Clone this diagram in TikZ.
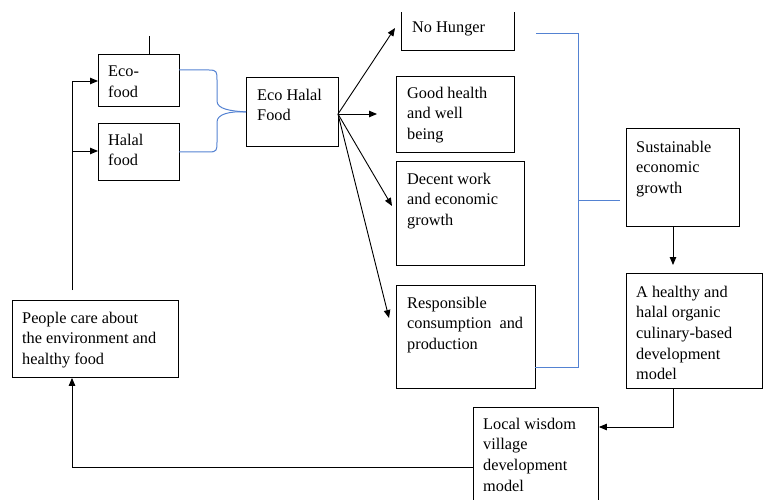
\documentclass[tikz,border=0pt]{standalone}
\usepackage{fontspec}
\setmainfont{Liberation Serif}
\newfontfamily\tnr{Liberation Serif}
\usetikzlibrary{arrows.meta,calc}
\definecolor{bl}{RGB}{84,130,210}
\begin{document}
\begin{tikzpicture}[x=1pt,y=-1pt,
  box/.style={draw,line width=0.9pt,inner sep=0pt,anchor=north west},
  txt/.style={anchor=north west,yshift=11.2pt,align=left,inner sep=0pt,font=\tnr\fontsize{16.3}{20.6}\selectfont},
  ar/.style={-{Triangle[length=8pt,width=6.5pt]},line width=0.9pt},
  conn/.style={line width=0.9pt},
  blu/.style={draw=bl,line width=1pt}]
\useasboundingbox (0,0) rectangle (763,500);
\begin{scope}
\clip (0,13) rectangle (763,500);
% boxes
\node[box,minimum width=81pt,minimum height=52pt] (eco) at (98,54) {};
\node[box,minimum width=81pt,minimum height=57pt] (halal) at (98,123) {};
\node[box,minimum width=92pt,minimum height=69pt] (ehf) at (246,77) {};
\node[box,minimum width=113pt,minimum height=50pt] (nohunger) at (401,0) {};
\node[box,minimum width=118pt,minimum height=76pt] (good) at (396,76) {};
\node[box,minimum width=128pt,minimum height=104pt] (decent) at (396,161) {};
\node[box,minimum width=139pt,minimum height=103pt] (resp) at (396,285) {};
\node[box,minimum width=113pt,minimum height=98pt] (sust) at (626,128) {};
\node[box,minimum width=136pt,minimum height=115pt] (heal) at (626,273) {};
\node[box,minimum width=125pt,minimum height=110pt] (local) at (473,407) {};
\node[box,minimum width=166pt,minimum height=77pt] (people) at (12,300) {};
% texts
\node[txt] (teco) at (108,77) {Eco-\\food};
\node[txt] (thalal) at (108,145) {Halal\\food};
\node[txt] (tehf) at (257,100) {Eco Halal\\Food};
\node[txt] (tnoh) at (412,33) {No Hunger};
\node[txt] (tgood) at (407,98) {Good health\\and well\\being};
\node[txt] (tdecent) at (407,184) {Decent work\\and economic\\growth};
\node[txt] (tresp) at (407,308) {Responsible\\consumption\ \ and\\production};
\node[txt] (tsust) at (636,152) {Sustainable\\economic\\growth};
\node[txt] (theal) at (636,297) {A healthy and\\halal organic\\culinary-based\\development\\model};
\node[txt] (tlocal) at (483,429) {Local wisdom\\village\\development\\model};
\node[txt] (tpeople) at (22,323) {People care about\\the environment and\\healthy food};
% coordinates
\coordinate (stub) at (149,36);
\coordinate (lp) at (72,290);
\coordinate (ltop) at (72,81);
\coordinate (lmid) at (72,151);
\coordinate (lbot) at (72,467);
\coordinate (hb) at (673,427);
\coordinate (st) at (673,265);
\coordinate (src) at (338,114);
\coordinate (a1) at (395,28);
\coordinate (a2) at (377,114);
\coordinate (a3) at (392,206);
\coordinate (a4) at (389,318);
\coordinate (b1) at (536,34);
\coordinate (b2) at (578,34);
\coordinate (b3) at (578,367);
\coordinate (b4) at (535,367);
\coordinate (bm) at (578,200);
\coordinate (be) at (620,200);
\coordinate (e1) at (179,70);
\coordinate (h1) at (179,152);
% black connectors
\draw[conn] (stub) -- (stub |- eco.north);
\draw[conn] (lp) -- (ltop);
\draw[ar] (ltop) -- (eco.west |- ltop);
\draw[ar] (lmid) -- (halal.west |- lmid);
\draw[ar] (local.west |- lbot) -- (lbot) -- (people.south -| lbot);
\draw[ar] (heal.south -| hb) -- (hb) -- (local.east |- hb);
\draw[ar] (sust.south -| st) -- (st);
\draw[ar] (src) -- (a1);
\draw[ar] (src) -- (a2);
\draw[ar] (src) -- (a3);
\draw[ar] (src) -- (a4);
% blue connectors
\draw[blu] (b1) -- (b2) -- (b3) -- (b4);
\draw[blu] (bm) -- (be);
\draw[blu] (e1) -- (209,70) .. controls (217,70) and (217,72) .. (217,80) -- (217,101) .. controls (217,109) and (230,111) .. (ehf.west);
\draw[blu] (h1) -- (209,152) .. controls (217,152) and (217,150) .. (217,142) -- (217,122) .. controls (217,114) and (230,111) .. (ehf.west);
\end{scope}
\end{tikzpicture}
\end{document}
